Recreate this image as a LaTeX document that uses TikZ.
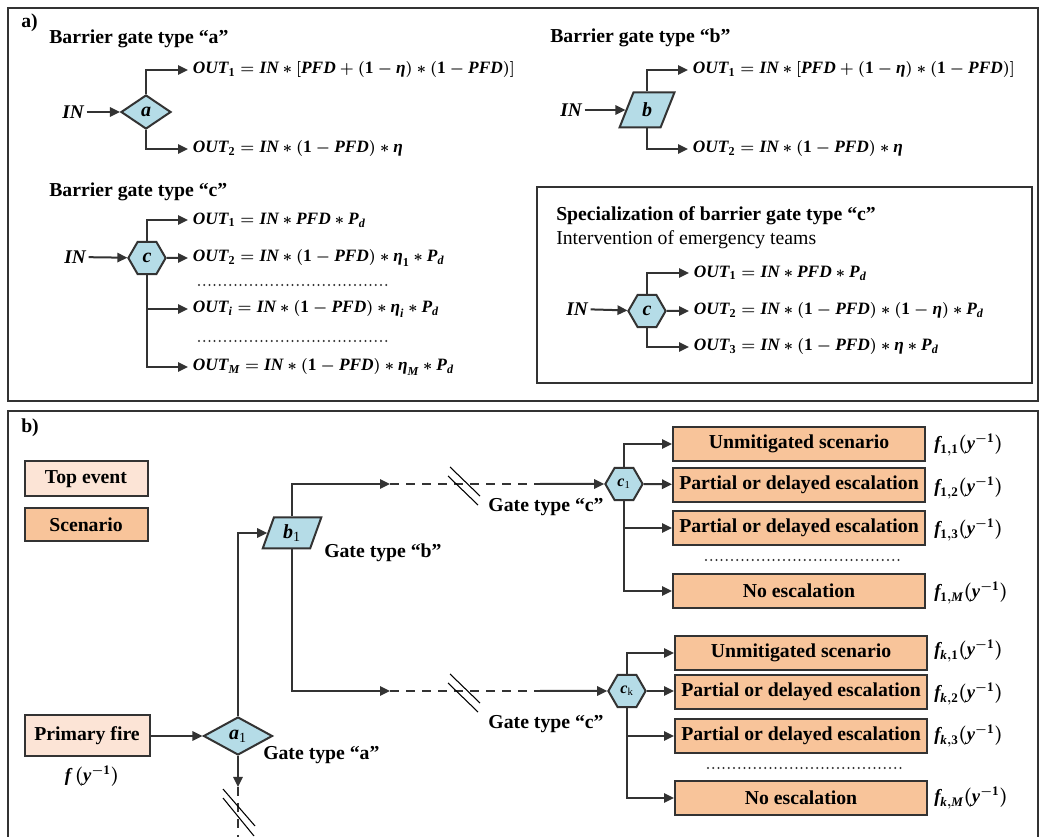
\documentclass[tikz,border=0pt]{standalone}
\usepackage{amsmath}
\usepackage{fontspec}
\setmainfont{Liberation Serif}
\usetikzlibrary{arrows.meta,shapes.geometric}
\definecolor{ink}{HTML}{333333}
\definecolor{gatefill}{HTML}{B5DCE7}
\definecolor{topfill}{HTML}{FCE4D6}
\definecolor{scenfill}{HTML}{F8C49A}
% bold math helpers: variables in bold italic, numerals in bold
\newcommand{\V}[1]{\text{\bfseries\itshape #1}}
\newcommand{\N}[1]{\text{\bfseries #1}}
\newcommand{\bm}[1]{{\boldmath$#1$}}
\begin{document}
\begin{tikzpicture}[x=0.75pt,y=-0.75pt,
  txt/.style={font=\fontsize{14.8}{17}\selectfont\bfseries},
  ttl/.style={txt, anchor=west, inner sep=0pt},
  eq/.style={anchor=west, inner sep=3.5pt, font=\fontsize{13}{15}\selectfont},
  inlab/.style={inner sep=2pt, font=\fontsize{14.5}{16}\selectfont},
  wire/.style={draw=ink, line width=1.5pt},
  arr/.style={wire, -{Triangle[length=7.5pt,width=7pt]}},
  dashline/.style={wire, dash pattern=on 6.75pt off 5.25pt},
  slash/.style={draw=black, line width=0.8pt},
  dots/.style={draw=ink, line width=1.7pt, line cap=round, dash pattern=on 0pt off 3.9pt},
  frame/.style={draw=ink, line width=0.9pt},
  gate/.style={draw=ink, fill=gatefill, line width=1.5pt, inner sep=0pt, font=\fontsize{15}{16}\selectfont},
  gdia/.style={gate, diamond},
  ghex/.style={gate, regular polygon, regular polygon sides=6, minimum size=28pt},
  gpar/.style={gate, trapezium, trapezium left angle=70, trapezium right angle=110, trapezium stretches=true},
  evbox/.style={txt, draw=ink, line width=1.5pt, inner sep=0pt},
  topev/.style={evbox, fill=topfill},
  scen/.style={evbox, fill=scenfill, minimum width=189pt, minimum height=25.5pt},
  freq/.style={anchor=west, inner sep=0pt, font=\fontsize{14}{16}\selectfont},
  gtxt/.style={txt, inner sep=0pt}
]
\useasboundingbox (0,0) rectangle (1040,837);

% ---------- panel frames ----------
\draw[frame] (8,8) rectangle (1038,401);
\draw[frame] (8,850) |- (1038,411) -- (1038,850);
\draw[frame] (537,187) rectangle (1032,383);

% ---------- panel a) ----------
\node[ttl] (la) at (21,23) {a)};

% gate type a
\node[ttl] (ta) at (49,39) {Barrier gate type “a”};
\node[inlab] (ina) at (73,112) {\bm{\V{IN}}};
\node[gdia, minimum width=37.5pt, minimum height=25.5pt] (ga) at (146,112) {\bm{\V{a}}};
\node[eq] (oa1) at (188,70) {\bm{\V{OUT}_{\N{1}} = \V{IN}\ast[\V{PFD}+(\N{1}-\V{η})\ast(\N{1}-\V{PFD})]}};
\node[eq] (oa2) at (188,149) {\bm{\V{OUT}_{\N{2}} = \V{IN}\ast(\N{1}-\V{PFD})\ast\V{η}}};
\draw[arr] (ina) -- (ga);
\draw[arr] (ga) |- (oa1);
\draw[arr] (ga) |- (oa2);

% gate type b
\node[ttl] (tb) at (550,38) {Barrier gate type “b”};
\node[inlab] (inb) at (571,110) {\bm{\V{IN}}};
\node[gpar, minimum width=41.25pt, minimum height=26.25pt] (gb) at (647,110) {\bm{\V{b}}};
\node[eq] (ob1) at (688,70) {\bm{\V{OUT}_{\N{1}} = \V{IN}\ast[\V{PFD}+(\N{1}-\V{η})\ast(\N{1}-\V{PFD})]}};
\node[eq] (ob2) at (688,149) {\bm{\V{OUT}_{\N{2}} = \V{IN}\ast(\N{1}-\V{PFD})\ast\V{η}}};
\draw[arr] (inb) -- (gb);
\draw[arr] (gb) |- (ob1);
\draw[arr] (gb) |- (ob2);

% gate type c
\node[ttl] (tc) at (49,192) {Barrier gate type “c”};
\node[inlab] (inc) at (75,257) {\bm{\V{IN}}};
\node[ghex] (gc) at (147,258) {\bm{\V{c}}};
\node[eq] (oc1) at (188,220) {\bm{\V{OUT}_{\N{1}} = \V{IN}\ast\V{PFD}\ast\V{P}_{\V{d}}}};
\node[eq] (oc2) at (188,258) {\bm{\V{OUT}_{\N{2}} = \V{IN}\ast(\N{1}-\V{PFD})\ast\V{η}_{\N{1}}\ast\V{P}_{\V{d}}}};
\node[eq] (oci) at (188,309) {\bm{\V{OUT}_{\V{i}} = \V{IN}\ast(\N{1}-\V{PFD})\ast\V{η}_{\V{i}}\ast\V{P}_{\V{d}}}};
\node[eq] (ocm) at (188,367) {\bm{\V{OUT}_{\V{M}} = \V{IN}\ast(\N{1}-\V{PFD})\ast\V{η}_{\V{M}}\ast\V{P}_{\V{d}}}};
\draw[arr] (inc) -- (gc);
\draw[arr] (gc) |- (oc1);
\draw[arr] (gc) -- (oc2);
\draw[arr] (gc) |- (oci);
\draw[arr] (gc) |- (ocm);
\draw[dots] (199,285) -- (390,285);
\draw[dots] (199,341) -- (390,341);

% specialization of gate type c
\node[ttl] (ts) at (556,216) {Specialization of barrier gate type “c”};
\node[ttl, font=\fontsize{14.8}{17}\selectfont] (ts2) at (556,240) {Intervention of emergency teams};
\node[inlab] (ins) at (577,309) {\bm{\V{IN}}};
\node[ghex] (gs) at (647,311) {\bm{\V{c}}};
\node[eq] (os1) at (689,273) {\bm{\V{OUT}_{\N{1}} = \V{IN}\ast\V{PFD}\ast\V{P}_{\V{d}}}};
\node[eq] (os2) at (689,311) {\bm{\V{OUT}_{\N{2}} = \V{IN}\ast(\N{1}-\V{PFD})\ast(\N{1}-\V{η})\ast\V{P}_{\V{d}}}};
\node[eq] (os3) at (689,347) {\bm{\V{OUT}_{\N{3}} = \V{IN}\ast(\N{1}-\V{PFD})\ast\V{η}\ast\V{P}_{\V{d}}}};
\draw[arr] (ins) -- (gs);
\draw[arr] (gs) |- (os1);
\draw[arr] (gs) -- (os2);
\draw[arr] (gs) |- (os3);

% ---------- panel b) ----------
\node[ttl] (lb) at (21,428) {b)};

% legend
\node[topev, minimum width=92.25pt, minimum height=26.25pt] (lgtop) at (86,479) {Top event};
\node[evbox, fill=scenfill, minimum width=92.25pt, minimum height=24.75pt] (lgsc) at (86,525) {Scenario};

% initiating event and gate a1
\node[topev, minimum width=93.75pt, minimum height=30.75pt] (pf) at (87,736) {Primary fire};
\node[freq, anchor=center] (pff) at (92,776) {\bm{\V{f}\,(\V{y}^{-\N{1}})}};
\node[gdia, minimum width=51.75pt, minimum height=28.5pt] (a1) at (238,736) {\bm{\V{a}_{\text{1}}}};
\node[gtxt, anchor=west] (a1t) at (263,755) {Gate type “a”};
\draw[arr] (pf) -- (a1);
\coordinate (d1) at (238,787);
\coordinate (d2) at (238,845);
\draw[arr] (a1) -- (d1);
\draw[dashline] (d1) -- (d2);
\draw[slash] (223,789) -- (255,826);
\draw[slash] (223,798) -- (254,836);

% gate b1
\node[gpar, trapezium left angle=72, trapezium right angle=108, minimum width=44pt, minimum height=23.25pt] (b1) at (292,533) {\bm{\V{b}_{\text{1}}}};
\node[gtxt, anchor=west] (b1t) at (324,553) {Gate type “b”};
\draw[arr] (a1) |- (b1);

% branch towards c1
\coordinate (p1) at (390,484);
\coordinate (q1) at (540,484);
\draw[arr] (b1) |- (p1);
\draw[dashline] (p1) -- (q1);
\draw[slash] (450,467) -- (480,496);
\draw[slash] (448,476) -- (478,505);

% branch towards ck
\coordinate (p2) at (390,691);
\coordinate (q2) at (540,691);
\draw[arr] (b1) |- (p2);
\draw[dashline] (p2) -- (q2);
\draw[slash] (450,674) -- (480,703);
\draw[slash] (448,683) -- (478,712);

% gate c1 and its scenarios
\node[ghex, font=\fontsize{12}{14}\selectfont] (c1) at (624,484) {\bm{\V{c}_{\text{1}}}};
\node[gtxt] (c1t) at (546,507) {Gate type “c”};
\draw[arr] (q1) -- (c1);
\node[scen] (s11) at (799,444) {Unmitigated scenario};
\node[scen] (s12) at (799,485) {Partial or delayed escalation};
\node[scen] (s13) at (799,528) {Partial or delayed escalation};
\node[scen] (s1m) at (799,591) {No escalation};
\draw[dots] (706,560) -- (900,560);
\draw[arr] (c1) |- (s11);
\draw[arr] (c1) -- (s12);
\draw[arr] (c1) |- (s13);
\draw[arr] (c1) |- (s1m);
\node[freq] (f11) at (934,445) {\bm{\V{f}_{\N{1},\N{1}}(\V{y}^{-\N{1}})}};
\node[freq] (f12) at (934,488) {\bm{\V{f}_{\N{1},\N{2}}(\V{y}^{-\N{1}})}};
\node[freq] (f13) at (934,530) {\bm{\V{f}_{\N{1},\N{3}}(\V{y}^{-\N{1}})}};
\node[freq] (f1m) at (934,593) {\bm{\V{f}_{\N{1},\V{M}}(\V{y}^{-\N{1}})}};

% gate ck and its scenarios
\node[ghex, font=\fontsize{12}{14}\selectfont] (ck) at (627,691) {\bm{\V{c}_{\text{k}}}};
\node[gtxt] (ckt) at (546,724) {Gate type “c”};
\draw[arr] (q2) -- (ck);
\node[scen] (sk1) at (801,653) {Unmitigated scenario};
\node[scen] (sk2) at (801,692) {Partial or delayed escalation};
\node[scen] (sk3) at (801,736) {Partial or delayed escalation};
\node[scen] (skm) at (801,798) {No escalation};
\draw[dots] (708,768) -- (902,768);
\draw[arr] (ck) |- (sk1);
\draw[arr] (ck.east) -- (ck.east -| sk2.west);
\draw[arr] (ck) |- (sk3);
\draw[arr] (ck) |- (skm);
\node[freq] (fk1) at (934,651) {\bm{\V{f}_{\V{k},\N{1}}(\V{y}^{-\N{1}})}};
\node[freq] (fk2) at (934,694) {\bm{\V{f}_{\V{k},\N{2}}(\V{y}^{-\N{1}})}};
\node[freq] (fk3) at (934,736) {\bm{\V{f}_{\V{k},\N{3}}(\V{y}^{-\N{1}})}};
\node[freq] (fkm) at (934,798) {\bm{\V{f}_{\V{k},\V{M}}(\V{y}^{-\N{1}})}};
\end{tikzpicture}
\end{document}
